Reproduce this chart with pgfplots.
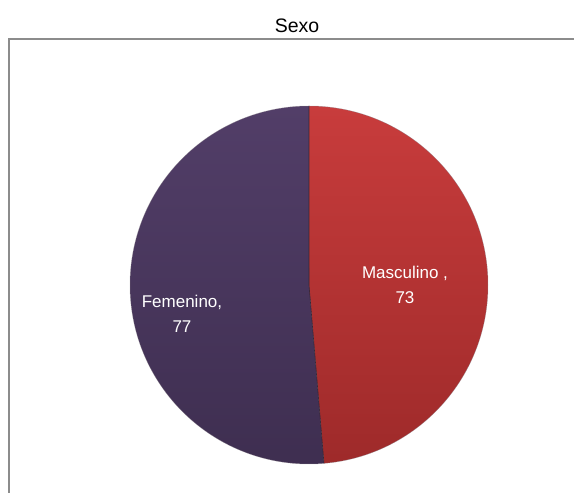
\documentclass[border=0pt]{standalone}
\usepackage{pgfplots}
\usepackage{pgfplotstable}
\pgfplotsset{compat=1.18}
\usepackage{fontspec}
\setmainfont{Liberation Sans}
\definecolor{frame}{RGB}{140,140,140}
\definecolor{redtop}{RGB}{200,60,60}
\definecolor{redbot}{RGB}{158,42,42}
\definecolor{purtop}{RGB}{82,62,104}
\definecolor{purbot}{RGB}{62,46,80}
\definecolor{rim}{RGB}{55,40,55}

\pgfplotstableread{
label     value
Masculino 73
Femenino  77
}\sexdata

\begin{document}
\begin{tikzpicture}
\pgfplotstablegetelem{0}{value}\of\sexdata \let\vM\pgfplotsretval
\pgfplotstablegetelem{1}{value}\of\sexdata \let\vF\pgfplotsretval
\pgfmathsetmacro{\total}{\vM+\vF}
\pgfmathsetmacro{\aM}{90-360*(\vM/\total)}
\pgfmathsetmacro{\aF}{\aM-360*(\vF/\total)}
\useasboundingbox (0,0) rectangle (574pt,493pt);
\begin{axis}[
    at={(0,0)}, anchor=south west,
    width=574pt, height=493pt, scale only axis,
    xmin=0, xmax=574, ymin=0, ymax=493,
    hide axis, clip=false
]
% frame (cut off at the right and bottom)
\draw[frame, line width=1.5pt] (axis cs:9,0) -- (axis cs:9,454) -- (axis cs:574,454);
% title
\node[font=\fontsize{19.5}{22}\selectfont] at (axis cs:297,467) {Sexo};
% slices
\shade[top color=redtop, bottom color=redbot]
  (axis cs:309,208) -- ++(90:179pt) arc[start angle=90, end angle=\aM, radius=179pt] -- cycle;
\shade[top color=purtop, bottom color=purbot]
  (axis cs:309,208) -- ++(\aM:179pt) arc[start angle=\aM, end angle=\aF, radius=179pt] -- cycle;
\draw[rim, line width=0.6pt] (axis cs:309,208) ++(90:179pt) -- (axis cs:309,208) -- ++(\aM:179pt);
\draw[rim!60, line width=0.5pt, opacity=0.5] (axis cs:309,208) circle[radius=179pt];
% labels
\node[white, align=center, font=\fontsize{17}{25}\selectfont] at (axis cs:405,208) {Masculino ,\\73};
\node[white, align=center, font=\fontsize{17}{25}\selectfont] at (axis cs:182,179) {Femenino,\\77};
\end{axis}
\end{tikzpicture}
\end{document}
